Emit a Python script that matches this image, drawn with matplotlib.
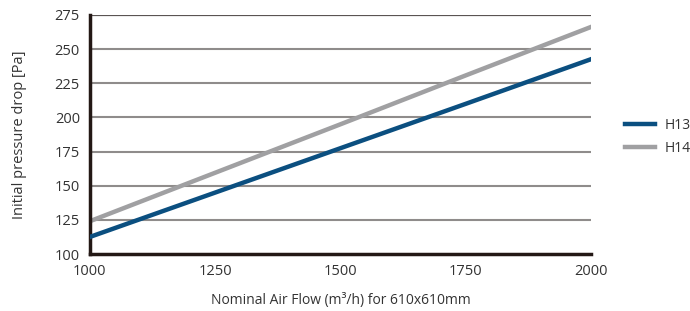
import matplotlib
matplotlib.use('Agg')
import matplotlib.pyplot as plt

plt.rcParams['font.family'] = ['Open Sans', 'DejaVu Sans']

# 風量と初期圧損
air_flow = [1000, 1250, 1500, 1750, 2000]
h13 = [112.5, 145, 177.5, 210, 242.7]
h14 = [124, 159.5, 195, 230.8, 266.3]

fig = plt.figure(figsize=(6.9, 3.11), dpi=100)
ax = fig.add_axes([0.130, 0.183, 0.727, 0.769])

for y in [125, 150, 175, 200, 225, 250]:
    ax.axhline(y, color='#8f8c8b', linewidth=1.5, zorder=1)
ax.axhline(275, color='#5a5453', linewidth=1.6, zorder=1)

ax.plot(air_flow, h13, color='#0b4f80', linewidth=3.2, label='H13', zorder=3)
ax.plot(air_flow, h14, color='#a0a0a2', linewidth=3.2, label='H14', zorder=2)

ax.set_xlim(1000, 2000)
ax.set_ylim(100, 275)
ax.set_xticks([1000, 1250, 1500, 1750, 2000])
ax.set_yticks([100, 125, 150, 175, 200, 225, 250, 275])
ax.tick_params(length=0, labelsize=10.5, colors='#333333', pad=7)

for s in ['top', 'right']:
    ax.spines[s].set_visible(False)
for s in ['left', 'bottom']:
    ax.spines[s].set_color('#231815')
    ax.spines[s].set_linewidth(2.5)

ax.set_xlabel('Nominal Air Flow (m³/h) for 610x610mm', fontsize=10, color='#333333', labelpad=10)
ax.set_ylabel('Initial pressure drop [Pa]', fontsize=10.5, color='#333333', labelpad=20)

ax.legend(loc='center left', bbox_to_anchor=(1.056, 0.49), borderaxespad=0, frameon=False,
          fontsize=10, handlelength=2.15, handletextpad=0.7, labelspacing=0.55,
          labelcolor='#333333')

fig.savefig('out.png', dpi=100)
